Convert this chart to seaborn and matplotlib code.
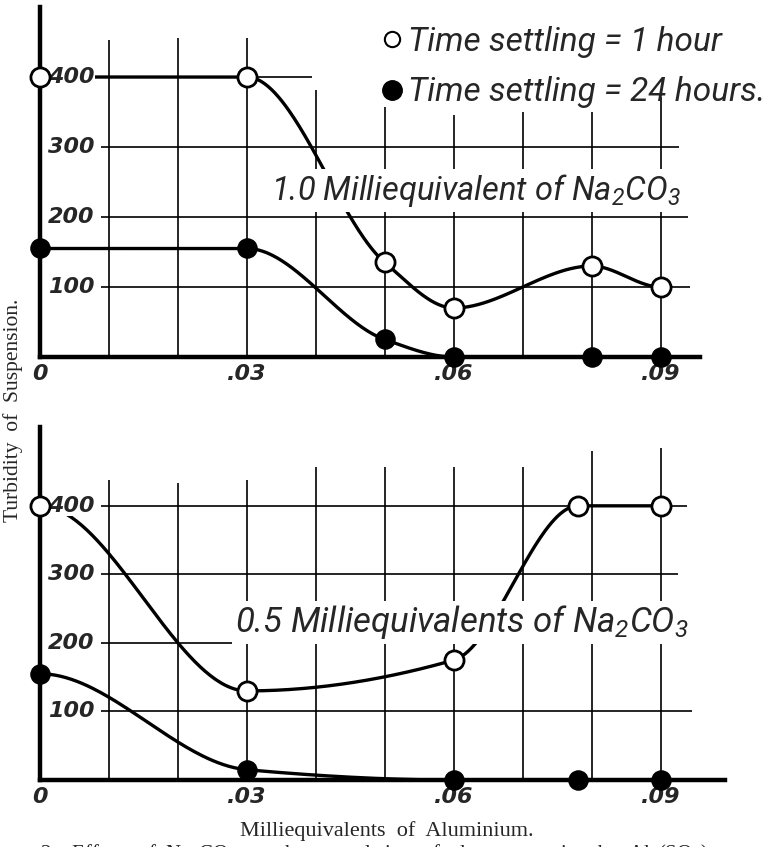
import numpy as np
import matplotlib
matplotlib.use("Agg")
import matplotlib.pyplot as plt
import seaborn as sns
from matplotlib.lines import Line2D
from matplotlib.font_manager import FontProperties

# ---------------- data ----------------
x_top = [0.0, 0.03, 0.05, 0.06, 0.08, 0.09]
top_1h = [400, 400, 135, 70, 130, 100]
top_24h = [155, 155, 25, 0, 0, 0]

x_bot = [0.0, 0.03, 0.06, 0.078, 0.09]
bot_1h = [400, 130, 175, 400, 400]
bot_24h = [155, 15, 0, 0, 0]

xtick_values = [0.0, 0.03, 0.06, 0.09]
xtick_labels = ["0", ".03", ".06", ".09"]
ytick_values = [100, 200, 300, 400]
ytick_labels = ["100", "200", "300", "400"]
series_labels = ["Time settling = 1 hour", "Time settling = 24 hours."]
panel_labels = ["1.0 Milliequivalent of Na$_2$CO$_3$",
                "0.5 Milliequivalents of Na$_2$CO$_3$"]
xlabel = "Milliequivalents  of  Aluminium."
ylabel = "Turbidity  of  Suspension."
caption = "2.   Effect   of  Na$_2$CO$_3$  on  the  coagulation  of  clay  suspension  by  Al$_2$(SO$_4$)$_3$"

# ---------------- style ----------------
sns.set_style("white")
HAND = ["Roboto", "DejaVu Sans"]
SERIF = ["Liberation Serif", "DejaVu Serif"]
plt.rcParams["font.family"] = HAND
plt.rcParams["mathtext.fontset"] = "custom"
plt.rcParams["mathtext.rm"] = "Roboto:italic"
plt.rcParams["mathtext.it"] = "Roboto:italic"

W, H = 764, 847
fig = plt.figure(figsize=(W / 100, H / 100), dpi=100)
fig.patch.set_facecolor("white")

ax1 = fig.add_axes([40 / W, (H - 357) / H, 660 / W, 350 / H])
ax2 = fig.add_axes([40 / W, (H - 780) / H, 685 / W, 353 / H])

grid_x = [0.01, 0.02, 0.03, 0.04, 0.05, 0.06, 0.07, 0.08, 0.09]
top_grid_tops = [453, 456, 456, 381, 357, 346, 350, 350, 371]
bot_grid_tops = [438, 433, 438, 457, 457, 457, 457, 480, 485]
top_hline_ends = [0.0942, 0.0940, 0.0927, 0.0395]
bot_hline_ends = [0.0945, 0.0938, 0.0925, 0.0938]


def smooth(x, y, n=80):
    """Monotone cubic Hermite rendering of a hand-drawn curve through the points."""
    x = np.asarray(x, float)
    y = np.asarray(y, float)
    h = np.diff(x)
    d = np.diff(y) / h
    m = np.zeros_like(x)
    for k in range(1, len(x) - 1):
        if d[k - 1] * d[k] > 0:
            w1 = 2 * h[k] + h[k - 1]
            w2 = h[k] + 2 * h[k - 1]
            m[k] = (w1 + w2) / (w1 / d[k - 1] + w2 / d[k])
    xs, ys = [], []
    for k in range(len(h)):
        t = np.linspace(0, 1, n)
        h00 = 2 * t**3 - 3 * t**2 + 1
        h10 = t**3 - 2 * t**2 + t
        h01 = -2 * t**3 + 3 * t**2
        h11 = t**3 - t**2
        xs.append(x[k] + t * h[k])
        ys.append(h00 * y[k] + h10 * h[k] * m[k] + h01 * y[k + 1] + h11 * h[k] * m[k + 1])
    return np.concatenate(xs), np.concatenate(ys)


def panel(ax, xv, y1, y24, xmax, ymax, tops, hends, label, label_xy, label_size):
    ax.set_xlim(0, xmax)
    ax.set_ylim(0, ymax)
    for s in ["top", "right"]:
        ax.spines[s].set_visible(False)
    for s in ["left", "bottom"]:
        ax.spines[s].set_linewidth(3.2)
        ax.spines[s].set_color("black")
        ax.spines[s].set_zorder(6)
    # grid
    ax.vlines(grid_x, 0, tops, colors="black", linewidth=1.2, zorder=1)
    ax.hlines(ytick_values, 0.0088, hends, colors="black", linewidth=1.2, zorder=1)
    # curves
    for yy in (y1, y24):
        xs, ys = smooth(xv, yy)
        sns.lineplot(x=xs, y=ys, ax=ax, color="black", linewidth=2.4,
                     sort=False, estimator=None, zorder=2)
    # label (masks grid and curve behind it)
    ax.text(label_xy[0], label_xy[1], label, ha="center", va="center",
            fontsize=label_size, fontstyle="italic", family=HAND, zorder=3,
            bbox=dict(facecolor="white", edgecolor="none", pad=2))
    # markers
    sns.scatterplot(x=xv, y=y1, ax=ax, s=190, color="white", edgecolor="black",
                    linewidth=2.0, clip_on=False, zorder=7, legend=False)
    sns.scatterplot(x=xv, y=y24, ax=ax, s=190, color="black", edgecolor="black",
                    linewidth=1.0, clip_on=False, zorder=7, legend=False)
    # ticks
    ax.set_xticks(xtick_values)
    ax.set_xticklabels(xtick_labels, fontsize=16, fontstyle="italic",
                       fontweight="bold", family=["DejaVu Sans"])
    ax.tick_params(axis="x", length=0, pad=5)
    ax.set_yticks([])
    for v, t in zip(ytick_values, ytick_labels):
        ax.text(0.0045, v, t, ha="center", va="center", fontsize=16,
                fontstyle="italic", fontweight="bold", family=["DejaVu Sans"],
                zorder=4, bbox=dict(facecolor="white", edgecolor="none", pad=0.5))
    ax.set_xlabel("")
    ax.set_ylabel("")


panel(ax1, x_top, top_1h, top_24h, 0.0957, 500, top_grid_tops, top_hline_ends,
      panel_labels[0], (0.0632, 238), 23.5)
panel(ax2, x_bot, bot_1h, bot_24h, 0.0993, 515, bot_grid_tops, bot_hline_ends,
      panel_labels[1], (0.0612, 230), 25)

# legend (hand-lettered key at top right)
handles = [
    Line2D([], [], marker="o", linestyle="", markerfacecolor="white",
           markeredgecolor="black", markersize=11, markeredgewidth=1.5),
    Line2D([], [], marker="o", linestyle="", markerfacecolor="black",
           markeredgecolor="black", markersize=14),
]
ax1.legend(handles, series_labels, loc="upper left",
           bbox_to_anchor=(379 / W, 1 - 26 / H), bbox_transform=fig.transFigure,
           frameon=False, prop=FontProperties(family=HAND, style="italic", size=24),
           handletextpad=0.12, labelspacing=0.55, borderpad=0, handlelength=0.75,
           borderaxespad=0)

fig.text(387 / W, 1 - 831 / H, xlabel, ha="center", va="center",
         fontsize=16, family=SERIF)
fig.text(13 / W, 1 - 410 / H, ylabel, ha="center", va="center", rotation=90,
         fontsize=15.5, family=SERIF)
fig.text(40 / W, 1 - 842 / H, caption, ha="left", va="top", fontsize=15, family=SERIF)

fig.savefig("out.png", dpi=100, facecolor="white")
